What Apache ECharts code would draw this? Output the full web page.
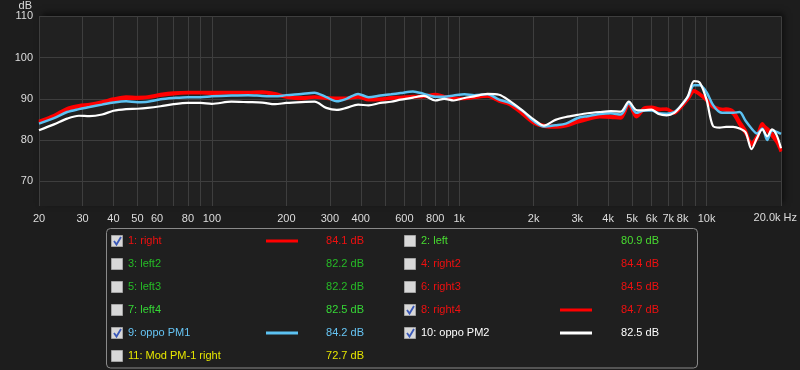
<!DOCTYPE html>
<html><head><meta charset="utf-8">
<script src="https://cdn.jsdelivr.net/npm/echarts@6/dist/echarts.min.js"></script>
<style>html,body{margin:0;padding:0;background:#1d1d1d}#c{width:800px;height:370px}</style>
</head><body><div id="c"></div><script>
const freqs = [20,23,26,29,32,36,40,45,50,55,62,70,80,90,100,120,140,160,180,200,230,260,290,320,350,390,430,480,530,580,650,720,800,870,950,1050,1150,1300,1450,1600,1800,2000,2200,2450,2700,3000,3300,3700,4100,4500,4850,5200,5600,6000,6400,6900,7400,7900,8400,8900,9400,10000,10600,11300,12000,12800,13600,14400,15200,16000,16800,17600,18400,19200,20000];
const right = [84.6,86.0,87.7,88.4,88.7,89.3,90.0,90.5,90.4,90.5,91.1,91.5,91.6,91.6,91.6,91.6,91.6,91.7,91.3,90.6,90.3,90.5,90.3,90.2,90.2,90.6,89.9,90.0,90.3,90.4,90.6,90.7,91.1,90.6,90.2,90.1,90.4,90.7,89.6,88.9,86.6,84.4,83.6,83.4,83.7,84.6,85.3,85.9,85.8,85.6,88.8,85.9,87.8,88.0,87.6,87.4,86.8,88.2,90.0,92.0,91.2,89.9,88.3,87.6,87.2,86.4,83.8,81.6,79.3,81.0,84.0,82.2,81.0,79.5,77.2];
const right4 = [84.3,85.6,87.3,88.1,88.4,89.0,89.7,90.1,90.1,90.3,90.8,91.2,91.4,91.4,91.3,91.4,91.4,91.5,91.0,90.4,90.0,90.4,90.1,89.9,90.0,90.4,89.7,89.8,90.1,90.2,90.4,90.5,90.8,90.4,90.0,90.0,90.3,90.6,89.4,88.6,86.3,84.1,83.3,83.1,83.4,84.3,85.0,85.6,85.5,85.3,88.6,85.6,87.5,87.8,87.3,87.6,86.5,88.0,89.8,91.8,91.0,89.6,88.0,87.4,87.6,87.0,84.5,82.2,78.8,80.3,83.6,82.8,81.6,80.0,77.6];
const oppoPM1 = [84.0,85.3,86.8,87.5,88.0,88.6,89.1,89.4,89.2,89.3,89.9,90.2,90.4,90.4,90.6,90.8,90.9,90.7,90.6,90.9,91.2,91.5,90.4,89.4,90.0,91.2,90.4,90.8,91.1,91.4,91.8,91.2,90.5,90.5,90.8,91.1,90.9,91.1,89.8,89.0,87.1,84.6,83.3,83.6,84.0,85.3,85.8,86.3,86.5,86.2,88.9,86.6,87.2,87.2,86.5,86.4,86.8,88.4,90.4,93.3,93.3,91.6,88.6,86.8,86.6,86.6,86.8,84.6,82.8,81.6,82.8,80.0,82.3,82.0,81.5];
const oppoPM2 = [82.4,83.8,85.2,85.9,85.8,86.2,87.1,87.5,87.6,87.8,88.2,88.7,89.0,89.0,88.8,89.3,89.2,89.1,88.7,89.0,89.2,89.3,87.8,87.3,87.8,88.6,88.4,89.0,89.3,89.8,90.3,90.7,89.6,90.0,89.6,90.2,90.6,91.2,91.0,89.5,87.2,85.0,83.5,84.9,85.6,86.1,86.5,86.8,87.0,86.9,89.3,87.3,87.2,87.4,86.3,86.0,86.6,88.4,90.6,94.3,93.9,89.8,83.5,83.0,83.2,83.2,82.8,81.8,77.8,80.5,82.6,80.9,82.6,81.2,78.0];
const gridFreqs = [20,30,40,50,60,70,80,90,100,200,300,400,500,600,700,800,900,1000,2000,3000,4000,5000,6000,7000,8000,9000,10000,20000];
const labelFreqs = [20,30,40,50,60,80,100,200,300,400,600,800,1000,2000,3000,4000,5000,6000,7000,8000,10000];
const yTicks = [70,80,90,100,110];

const legendNames = ['1: right','2: left','3: left2','4: right2','5: left3','6: right3','7: left4','8: right4','9: oppo PM1','10: oppo PM2','11: Mod PM-1 right'];
const legendValues = ['84.1 dB','80.9 dB','82.2 dB','84.4 dB','82.2 dB','84.5 dB','82.5 dB','84.7 dB','84.2 dB','82.5 dB','72.7 dB'];
const legendColors = ['#f01010','#48dc30','#26bb26','#f01010','#26bb26','#f01010','#36d836','#f01010','#66c4f4','#ffffff','#e6e600'];
const legendChecked = [true,false,false,false,false,false,false,true,true,true,false];
const lineColors = {'1: right':'#ff0000','8: right4':'#ff0000','9: oppo PM1':'#5cc2f2','10: oppo PM2':'#ffffff'};

const pairs = arr => freqs.map((f, i) => [f, arr[i]]);
const FONT = '"Liberation Sans", Arial, sans-serif';

const graphics = [];
graphics.push({type:'rect', shape:{x:106.5, y:228.5, width:591, height:139.5, r:4}, style:{fill:'#1f1f1f', stroke:'#8a8a8a', lineWidth:1}, z:10});
legendNames.forEach((name, i) => {
  const col = i % 2, row = Math.floor(i / 2);
  const bx = col === 0 ? 111 : 404;
  const cy = 241 + row * 23;
  const lx = col === 0 ? 266 : 560;
  const vx = col === 0 ? 364 : 659;
  graphics.push({type:'rect', shape:{x:bx+0.5, y:cy-5.5, width:11, height:11}, style:{fill:'#d8d8d8', stroke:'#a4a4a4', lineWidth:1}, z:11});
  if (legendChecked[i]) {
    graphics.push({type:'polyline', shape:{points:[[bx+3,cy],[bx+5.5,cy+3.5],[bx+10,cy-4]]}, style:{stroke:'#3a58b8', lineWidth:1.8, fill:null}, z:12});
    graphics.push({type:'line', shape:{x1:lx, y1:cy, x2:lx+32, y2:cy}, style:{stroke:lineColors[name], lineWidth:3}, z:11});
  }
  graphics.push({type:'text', x:bx+17, y:cy, style:{text:name, fill:legendColors[i], font:'11px ' + FONT, textAlign:'left', textVerticalAlign:'middle'}, z:11});
  graphics.push({type:'text', x:vx, y:cy, style:{text:legendValues[i], fill:legendColors[i], font:'11px ' + FONT, textAlign:'right', textVerticalAlign:'middle'}, z:11});
});
graphics.push({type:'text', x:797, y:218, style:{text:'20.0k Hz', fill:'#dddddd', font:'11px ' + FONT, textAlign:'right', textVerticalAlign:'middle'}, z:11});

const chart = echarts.init(document.getElementById('c'), null, {renderer:'canvas'});
chart.setOption({
  animation: false,
  backgroundColor: '#1d1d1d',
  grid: {left:39, right:19, top:15, bottom:164, show:true, backgroundColor:'#212121', borderWidth:0,
         shadowColor:'rgba(0,0,0,0.55)', shadowBlur:6, shadowOffsetX:3, shadowOffsetY:-3},
  xAxis: {
    type:'log', logBase:10, min:20, max:20000,
    axisLine:{show:false},
    axisTick:{show:false, customValues: gridFreqs},
    splitLine:{show:true, lineStyle:{color:'#3e3e3e', width:1}},
    axisLabel:{customValues: labelFreqs, color:'#dddddd', fontSize:11, fontFamily:FONT, margin:7,
      formatter: v => v >= 1000 ? (v/1000) + 'k' : String(v)}
  },
  yAxis: {
    type:'value', min:64, max:110,
    name:'dB', nameLocation:'end', nameGap:4,
    nameTextStyle:{color:'#dddddd', fontSize:11, fontFamily:FONT, align:'right', verticalAlign:'bottom', padding:[0,7,0,0]},
    axisLine:{show:false},
    axisTick:{show:false, customValues: yTicks},
    splitLine:{show:true, lineStyle:{color:'#3e3e3e', width:1}},
    axisLabel:{customValues: yTicks, color:'#dddddd', fontSize:11, fontFamily:FONT, margin:6}
  },
  series: [
    {name:'1: right', type:'line', data:pairs(right), smooth:0.3, symbol:'none', lineStyle:{color:'#ff0000', width:3}},
    {name:'8: right4', type:'line', data:pairs(right4), smooth:0.3, symbol:'none', lineStyle:{color:'#ff0000', width:3}},
    {name:'9: oppo PM1', type:'line', data:pairs(oppoPM1), smooth:0.3, symbol:'none', lineStyle:{color:'#5cc2f2', width:2.5}},
    {name:'10: oppo PM2', type:'line', data:pairs(oppoPM2), smooth:0.3, symbol:'none', lineStyle:{color:'#ffffff', width:2.2}}
  ],
  graphic: graphics
});
</script></body></html>
